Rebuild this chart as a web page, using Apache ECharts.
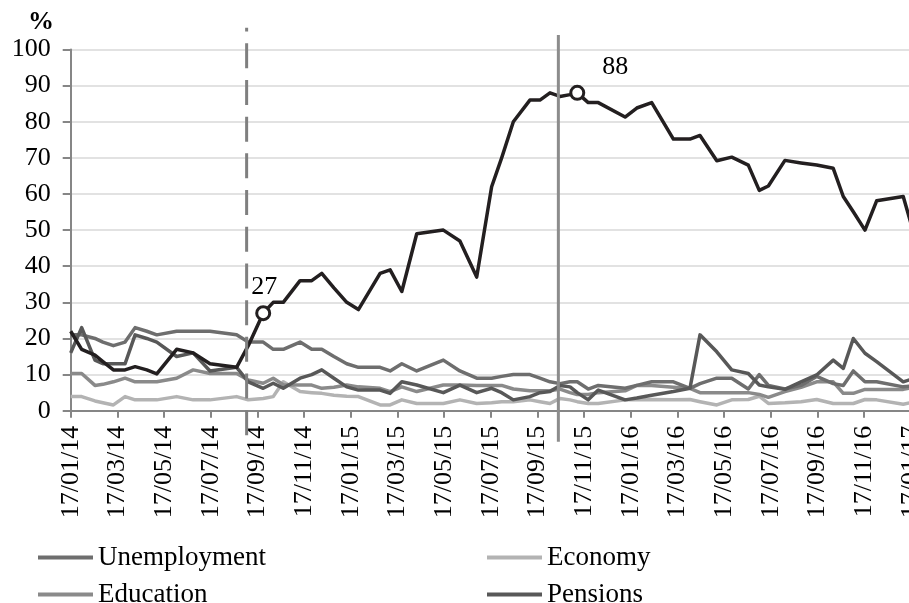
<!DOCTYPE html>
<html>
<head>
<meta charset="utf-8">
<script src="https://cdn.jsdelivr.net/npm/echarts@6/dist/echarts.min.js"></script>
<style>
html,body{margin:0;padding:0;background:#fff;}
#chart{width:909px;height:603px;}
</style>
</head>
<body>
<div id="chart"></div>
<script>
// Tick labels every two months (17th of the month)
const tickLabels = ["17/01/14","17/03/14","17/05/14","17/07/14","17/09/14","17/11/14",
  "17/01/15","17/03/15","17/05/15","17/07/15","17/09/15","17/11/15",
  "17/01/16","17/03/16","17/05/16","17/07/16","17/09/16","17/11/16","17/01/17"];

// Survey dates, in months since 17/01/14
const surveyMonths = [0, 0.47, 1.04, 1.38, 1.83, 2.33, 2.76, 3.26, 3.69, 4.54, 5.25, 5.97, 7.11, 7.61,
  8.25, 8.68, 9.11, 9.83, 10.33, 10.76, 11.28, 11.83, 12.33, 13.26, 13.69, 14.19, 14.83, 15.97, 16.68,
  17.40, 18.04, 18.47, 18.97, 19.68, 20.11, 20.54, 20.97, 21.40, 21.71, 22.18, 22.61, 23.76, 24.26,
  24.90, 25.83, 26.54, 26.97, 27.69, 28.33, 29.04, 29.51, 29.90, 30.61, 31.30, 31.97, 32.68, 33.11,
  33.54, 34.04, 34.54, 35.68, 36.18];

const mainTopic = [22, 17, 15.4, 13.6, 11.3, 11.3, 12.2, 11.3, 10.2, 17, 16, 13, 12, 18, 27, 30, 30, 36, 36,
  38, 34, 30, 28, 38, 39, 33, 49, 50, 47, 37, 62, 70, 80, 86, 86, 88, 87, 87.5, 88, 85.3, 85.3, 81.3, 83.8,
  85.3, 75.2, 75.2, 76.2, 69.2, 70.2, 68, 61, 62.2, 69.3, 68.6, 68, 67.1, 59.3, 55.1, 50, 58.1, 59.3, 48];

const unemployment = [21, 21, 20, 19, 18, 19, 23, 22, 21, 22, 22, 22, 21, 19, 19, 17, 17, 19, 17, 17, 15, 13,
  12, 12, 11, 13, 11, 14, 11, 9, 9, 9.5, 10, 10, 9, 8, 7.5, 8, 8, 6, 7, 6.2, 7, 8, 8, 6.2, 7.5, 9, 9, 6, 10,
  7, 6, 7, 9.5, 7.5, 7, 11, 8, 8, 6.6, 7];

const pensions = [16, 23, 14, 13, 13, 13, 21, 20, 19, 15, 16, 11, 12, 8, 6.2, 7.6, 6.2, 9, 10, 11.3, 9, 6.6,
  5.7, 5.7, 4.8, 8, 7.1, 5, 7.1, 5, 6.2, 5, 3, 3.9, 5, 5.3, 7, 6.6, 5, 3, 5.7, 3, 3.5, 4.3, 5.3, 6.2, 21,
  16.3, 11.3, 10.3, 7.1, 6.6, 5.9, 8, 9.9, 14, 11.7, 20, 15.9, 13.6, 8, 9];

const education = [10.3, 10.3, 7, 7.3, 8, 9, 8, 8, 8, 9, 11.3, 10.3, 10.3, 8.5, 7.6, 9, 7.2, 7.1, 7.1, 6.2,
  6.5, 7.1, 6.6, 6.2, 5.3, 6.6, 5.3, 7.1, 7.1, 7, 7, 7, 6, 5.5, 5.5, 5.5, 6, 5, 4.5, 4.5, 5, 5.5, 7, 7,
  6.5, 6.2, 5, 5, 5, 5, 4.5, 3.7, 5.3, 6.5, 8, 8, 4.8, 4.8, 5.9, 5.9, 5.9, 6.5];

const economy = [3.9, 3.9, 2.7, 2.2, 1.6, 3.9, 3, 3, 3, 3.9, 3, 3, 3.9, 3, 3.4, 3.9, 8, 5.3, 5, 4.8, 4.3, 4,
  3.9, 1.6, 1.6, 3, 2, 2, 3, 2, 2.2, 2.5, 2.5, 3, 2.5, 2, 3.4, 3, 2.5, 2, 2, 3, 3, 3.1, 3, 3.1, 2.5, 1.6,
  3, 3.1, 4, 2, 2.2, 2.5, 3.1, 2, 2, 2, 3.1, 3, 1.8, 2.5];

// Highlighted points (indices into surveyMonths) and event dates (months since 17/01/14)
const highlighted = [14, 38];
const dashedEventMonth = 7.54;
const solidEventMonth = 20.9;

// Legend layout: two columns, two rows
const legendNames = ['Unemployment', 'Economy', 'Education', 'Pensions'];

const FONT = '"Liberation Serif", "Times New Roman", serif';

function pairs(vals) { return vals.map((v, i) => [surveyMonths[i], v]); }

function mainData() {
  return mainTopic.map((v, i) => {
    const hi = highlighted.indexOf(i);
    if (hi < 0) return [surveyMonths[i], v];
    return {
      value: [surveyMonths[i], v],
      symbol: 'circle',
      symbolSize: 13,
      itemStyle: { color: '#ffffff', borderColor: '#231f20', borderWidth: 3 },
      label: {
        show: true, position: 'top', distance: 5,
        offset: hi === 1 ? [38, 0] : [1, 0],
        formatter: String(v), fontFamily: FONT, fontSize: 26, color: '#000'
      }
    };
  });
}

function grayLine(name, color, vals) {
  return {
    name: name, type: 'line', data: pairs(vals), symbol: 'none', silent: true,
    lineStyle: { color: color, width: 3.5, join: 'round' },
    itemStyle: { color: color }
  };
}

const chart = echarts.init(document.getElementById('chart'), null, { renderer: 'canvas' });

const legendText = { fontFamily: FONT, fontSize: 27, color: '#000', lineHeight: 22 };
const legends = legendNames.map((name, k) => ({
  data: [name],
  left: (k % 2 === 0) ? 38 : 487,
  top: (k < 2) ? 544 : 581,
  orient: 'horizontal', icon: 'rect', padding: 0,
  itemWidth: 55, itemHeight: 4, textStyle: legendText, selectedMode: false
}));

chart.setOption({
  animation: false,
  backgroundColor: '#fff',
  title: {
    text: '%', left: 28, top: 9, padding: 0,
    textStyle: { fontFamily: FONT, fontSize: 26, fontWeight: 'bold', color: '#000' }
  },
  grid: { left: 70.7, right: -1.7, top: 49.5, bottom: 192.3, containLabel: false, outerBoundsMode: 'none' },
  xAxis: {
    type: 'value', min: 0, max: 36, interval: 2,
    axisLine: { show: true, lineStyle: { color: '#868686', width: 2 } },
    axisTick: { show: true, length: 7, lineStyle: { color: '#868686', width: 2 } },
    splitLine: { show: false },
    axisLabel: {
      rotate: 90, margin: 15, showMaxLabel: true,
      fontFamily: FONT, fontSize: 26, color: '#000',
      formatter: function (v) { return tickLabels[Math.round(v / 2)] || ''; }
    }
  },
  yAxis: {
    type: 'value', min: 0, max: 100, interval: 10,
    axisLine: { show: true, lineStyle: { color: '#868686', width: 2 } },
    axisTick: { show: true, length: 8, lineStyle: { color: '#868686', width: 2 } },
    splitLine: { show: true, lineStyle: { color: '#d9d9d9', width: 1.5 } },
    axisLabel: { margin: 20, fontFamily: FONT, fontSize: 26, color: '#000' }
  },
  legend: legends,
  series: [
    grayLine('Economy', '#b3b3b3', economy),
    grayLine('Education', '#8a8a8a', education),
    grayLine('Unemployment', '#6e6e6e', unemployment),
    grayLine('Pensions', '#585858', pensions),
    {
      name: 'Main topic', type: 'line', data: mainData(), symbol: 'none', silent: true,
      lineStyle: { color: '#231f20', width: 3.5, join: 'round' },
      itemStyle: { color: '#231f20' }, z: 5
    }
  ]
});

function vline(month, topVal, botVal, dashed, color) {
  const top = chart.convertToPixel({ gridIndex: 0 }, [month, topVal]);
  const bot = chart.convertToPixel({ gridIndex: 0 }, [month, botVal]);
  return {
    type: 'line', z: 10,
    shape: { x1: bot[0], y1: bot[1], x2: top[0], y2: top[1] },
    style: { stroke: color, lineWidth: 3, lineDash: dashed ? [25, 11.7] : null }
  };
}

chart.setOption({
  graphic: [
    vline(dashedEventMonth, 106, -6.8, true, '#7f7f7f'),
    vline(solidEventMonth, 104, -8.6, false, '#8c8c8c')
  ]
});
</script>
</body>
</html>
